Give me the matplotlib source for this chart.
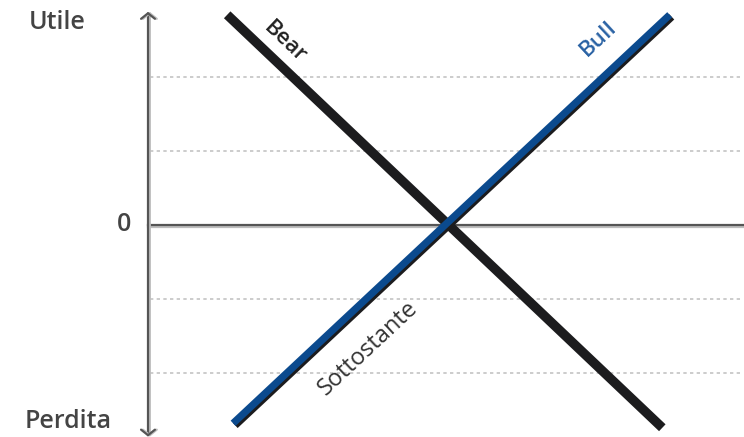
import matplotlib.pyplot as plt
import matplotlib.patheffects as pe

plt.rcParams['font.family'] = ['Open Sans', 'DejaVu Sans']

# profit/loss diagram: x = price of the underlying, y = profit
bear_x = [1.07, 6.95]
bear_y = [2.84, -2.74]
bull_x = [1.15, 7.05]
bull_y = [-2.68, 2.84]
grid_y = [-2, -1, 1, 2]

fig = plt.figure(figsize=(7.44, 4.37), dpi=100)
ax = fig.add_axes([0, 0, 1, 1])
ax.set_xlim(-2.0, 8.054)
ax.set_ylim(-2.865, 3.04)
ax.axis('off')

for gy in grid_y:
    ax.plot([0.03, 8.0], [gy, gy], color='#c4c4c4', lw=1.2, ls=(0, (2, 2)), zorder=1)

# zero line
ax.plot([0, 8.1], [0, 0], color='#555555', lw=1.6, zorder=2,
        path_effects=[pe.SimpleLineShadow(offset=(0, -1.3), shadow_color='#bdbdbd', alpha=1), pe.Normal()])

# vertical axis with arrows
ax.annotate('', xy=(0, 2.88), xytext=(0, -2.86),
            arrowprops=dict(arrowstyle='<->,head_length=0.4,head_width=0.5', color='#555555', lw=1.6,
                            shrinkA=0, shrinkB=0,
                            path_effects=[pe.SimpleLineShadow(offset=(1.3, 0), shadow_color='#bdbdbd', alpha=1),
                                          pe.Normal()]),
            zorder=2)

ax.plot(bear_x, bear_y, color='#1c1c1e', lw=6.8, solid_capstyle='butt', zorder=3)
ax.plot(bull_x, bull_y, color='#0b4a8e', lw=5.2, solid_capstyle='butt', zorder=4,
        path_effects=[pe.SimpleLineShadow(offset=(1.5, -1.5), shadow_color='#1c1c1e', alpha=1), pe.Normal()])

txt = dict(color='#444444', fontsize=18, fontweight='semibold', ha='center', va='center')
ax.text(-1.23, 2.74, 'Utile', **txt)
ax.text(-0.32, 0.01, '0', **txt)
ax.text(-1.08, -2.66, 'Perdita', **txt)

ax.text(1.85, 2.47, 'Bear', rotation=-43.5, color='#222222', fontsize=16, fontweight='semibold',
        ha='center', va='center')
ax.text(6.08, 2.51, 'Bull', rotation=43, color='#2a62a4', fontsize=16, fontweight='semibold',
        ha='center', va='center')
ax.text(2.97, -1.66, 'Sottostante', rotation=43, color='#333333', fontsize=17,
        ha='center', va='center')

fig.savefig('out.png', dpi=100)
